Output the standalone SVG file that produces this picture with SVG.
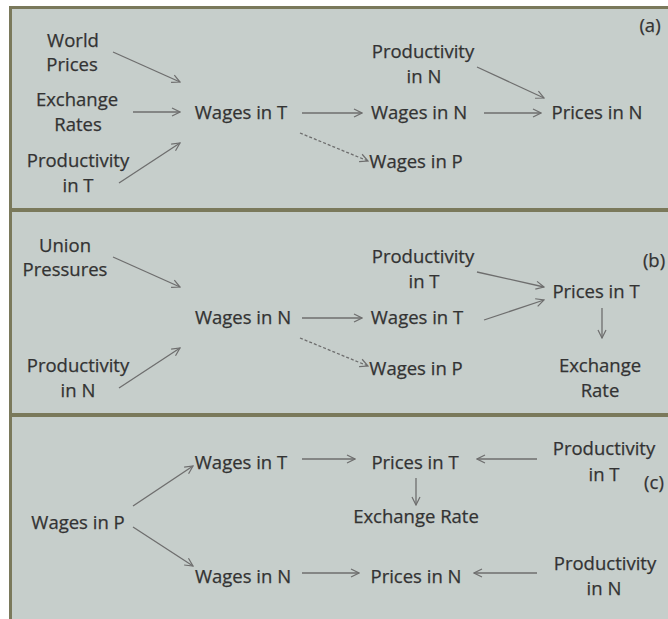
<svg xmlns="http://www.w3.org/2000/svg" width="668" height="619" viewBox="0 0 668 619">
<style>
text{font-family:"Open Sans","Liberation Sans",sans-serif;font-size:18.5px;fill:#333333;stroke:#333333;stroke-width:0.25;text-anchor:middle}
.c line{stroke:#6e6e6e;stroke-width:1.3;fill:none;marker-end:url(#ah)}
.c .d{stroke-dasharray:3 2}
.b{fill:#7a795b}
</style>
<defs>
<marker id="ah" viewBox="0 0 10 10" refX="9" refY="5" markerWidth="10" markerHeight="10" markerUnits="userSpaceOnUse" orient="auto">
<path d="M1,1 L9,5 L1,9" fill="none" stroke="#6e6e6e" stroke-width="1.2"/>
</marker>
</defs>
<rect x="0" y="0" width="668" height="619" fill="#ffffff"/>
<rect x="11" y="8" width="657" height="611" fill="#c6cecb"/>
<g id="borders">
<rect class="b" x="9" y="6" width="659" height="3"/>
<rect class="b" x="9" y="6" width="3" height="613"/>
<rect class="b" x="9" y="208" width="659" height="4"/>
<rect class="b" x="9" y="413" width="659" height="4"/>
</g>
<g id="panel-a">
<g id="a-world"><text x="73" y="47">World</text><text x="72" y="71">Prices</text></g>
<g id="a-exch"><text x="77" y="106">Exchange</text><text x="78" y="131">Rates</text></g>
<g id="a-prodT"><text x="78" y="167">Productivity</text><text x="78" y="192">in T</text></g>
<g id="a-wagesT"><text x="241" y="119">Wages in T</text></g>
<g id="a-wagesN"><text x="419" y="119">Wages in N</text></g>
<g id="a-wagesP"><text x="416" y="168">Wages in P</text></g>
<g id="a-prodN"><text x="423" y="58">Productivity</text><text x="424" y="83">in N</text></g>
<g id="a-pricesN"><text x="597" y="119">Prices in N</text></g>
<g id="a-label"><text x="650" y="32">(a)</text></g>
</g>
<g id="panel-b">
<g id="b-union"><text x="65" y="252">Union</text><text x="65" y="276">Pressures</text></g>
<g id="b-prodN"><text x="78" y="372">Productivity</text><text x="78" y="397">in N</text></g>
<g id="b-wagesN"><text x="243" y="324">Wages in N</text></g>
<g id="b-wagesT"><text x="417" y="324">Wages in T</text></g>
<g id="b-wagesP"><text x="416" y="375">Wages in P</text></g>
<g id="b-prodT"><text x="423" y="263">Productivity</text><text x="424" y="288">in T</text></g>
<g id="b-pricesT"><text x="596" y="298">Prices in T</text></g>
<g id="b-exch"><text x="600" y="372">Exchange</text><text x="600" y="397">Rate</text></g>
<g id="b-label"><text x="654" y="267">(b)</text></g>
</g>
<g id="panel-c">
<g id="c-wagesP"><text x="78" y="529">Wages in P</text></g>
<g id="c-wagesT"><text x="241" y="469">Wages in T</text></g>
<g id="c-wagesN"><text x="243" y="583">Wages in N</text></g>
<g id="c-pricesT"><text x="415" y="469">Prices in T</text></g>
<g id="c-pricesN"><text x="416" y="583">Prices in N</text></g>
<g id="c-exch"><text x="416" y="523">Exchange Rate</text></g>
<g id="c-prodT"><text x="604" y="455">Productivity</text><text x="604" y="481">in T</text></g>
<g id="c-prodN"><text x="605" y="570">Productivity</text><text x="604" y="595">in N</text></g>
<g id="c-label"><text x="654" y="489">(c)</text></g>
</g>
<g id="connectors" class="c">
<line x1="113" y1="52" x2="180" y2="82"/>
<line x1="133" y1="112" x2="180" y2="112"/>
<line x1="119" y1="183" x2="180" y2="143"/>
<line x1="302" y1="113" x2="362" y2="113"/>
<line class="d" x1="300" y1="133" x2="368" y2="161"/>
<line x1="477" y1="67" x2="544" y2="98"/>
<line x1="484" y1="113" x2="541" y2="113"/>
<line x1="113" y1="257" x2="180" y2="287"/>
<line x1="119" y1="388" x2="180" y2="348"/>
<line x1="302" y1="318" x2="362" y2="318"/>
<line class="d" x1="300" y1="338" x2="368" y2="366"/>
<line x1="477" y1="272" x2="544" y2="287"/>
<line x1="484" y1="320" x2="544" y2="300"/>
<line x1="602" y1="308" x2="602" y2="338"/>
<line x1="133" y1="506" x2="193" y2="466"/>
<line x1="133" y1="527" x2="193" y2="566"/>
<line x1="302" y1="459" x2="355" y2="459"/>
<line x1="302" y1="573" x2="359" y2="573"/>
<line x1="416" y1="478" x2="416" y2="505"/>
<line x1="537" y1="459" x2="477" y2="459"/>
<line x1="537" y1="573" x2="474" y2="573"/>
</g>
</svg>
